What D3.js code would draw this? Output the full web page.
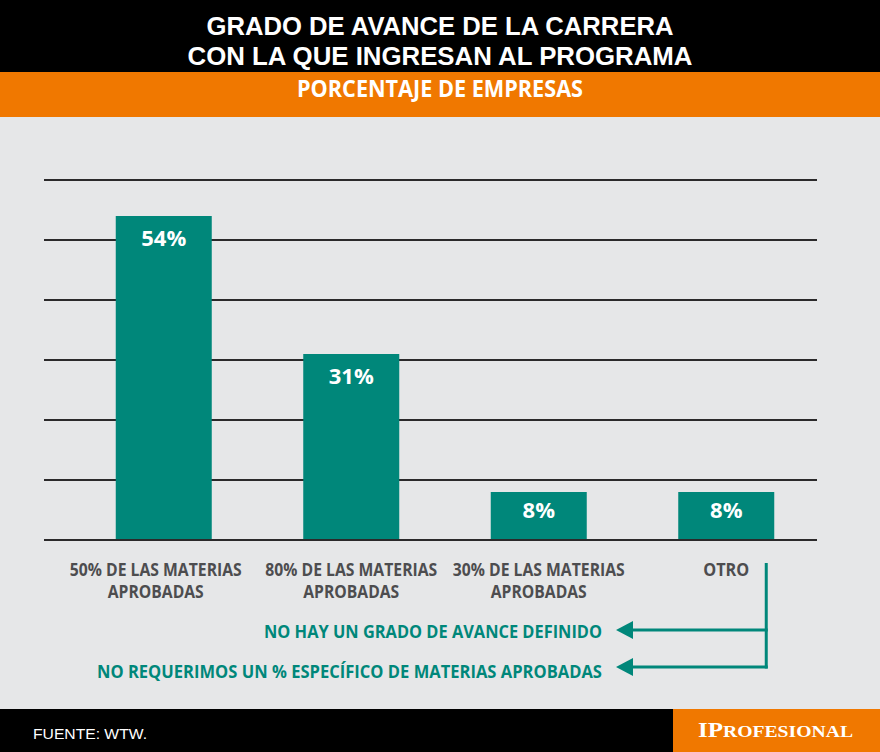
<!DOCTYPE html>
<html><head><meta charset="utf-8">
<script src="https://cdn.jsdelivr.net/npm/d3@7"></script>
<style>html,body{margin:0;padding:0;background:#e6e7e8;}svg{display:block;}</style>
</head><body>
<svg id="c" width="880" height="752"></svg>
<script>
const titleLines = ["GRADO DE AVANCE DE LA CARRERA", "CON LA QUE INGRESAN AL PROGRAMA"];
const subtitle = "PORCENTAJE DE EMPRESAS";
const categories = ["50% DE LAS MATERIAS|APROBADAS", "80% DE LAS MATERIAS|APROBADAS", "30% DE LAS MATERIAS|APROBADAS", "OTRO"];
const values = [54, 31, 8, 8];
const gridTicks = [0, 10, 20, 30, 40, 50, 60];
const otroNotes = ["NO HAY UN GRADO DE AVANCE DEFINIDO", "NO REQUERIMOS UN % ESPECÍFICO DE MATERIAS APROBADAS"];
const source = "FUENTE: WTW.";

const W = 880, H = 752;
const teal = "#00877a", orange = "#f07800", gray = "#4d4d4f";
const svg = d3.select("#c");
const bold = "'Open Sans', 'DejaVu Sans', sans-serif";

// backgrounds
svg.append("rect").attr("width", W).attr("height", H).attr("fill", "#e6e7e8");
svg.append("rect").attr("x", 0).attr("y", 0).attr("width", W).attr("height", 72).attr("fill", "#000");
svg.append("rect").attr("x", 0).attr("y", 72).attr("width", W).attr("height", 45).attr("fill", orange);
svg.append("rect").attr("x", 0).attr("y", 709).attr("width", W).attr("height", 43).attr("fill", "#000");
svg.append("rect").attr("x", 673).attr("y", 709).attr("width", 207).attr("height", 43).attr("fill", orange);

// title (one text element, two lines)
const titleWidths = [467, 505];
const title = svg.append("text")
  .attr("text-anchor", "middle")
  .attr("font-family", "'Liberation Sans', Arial, sans-serif").attr("font-weight", 700).attr("font-size", 25)
  .attr("fill", "#fff");
title.selectAll("tspan").data(titleLines).join("tspan")
  .attr("x", W / 2).attr("y", (d, i) => 35 + i * 30)
  .attr("textLength", (d, i) => titleWidths[i]).attr("lengthAdjust", "spacingAndGlyphs")
  .text(d => d);

svg.append("text").attr("x", 440).attr("y", 97).attr("text-anchor", "middle")
  .attr("font-family", bold).attr("font-weight", 700).attr("font-size", 22.5).attr("fill", "#fff")
  .attr("textLength", 286).attr("lengthAdjust", "spacingAndGlyphs")
  .text(subtitle);

// scales
const x = d3.scaleBand().domain(categories).range([70, 820]).paddingInner(0.488).paddingOuter(0.244);
const y = d3.scaleLinear().domain([0, 60]).range([540, 180]);

// gridlines
const g = svg.append("g");
g.selectAll("line.grid").data(gridTicks).join("line")
  .attr("class", "grid")
  .attr("x1", 44).attr("x2", 817)
  .attr("y1", d => y(d)).attr("y2", d => y(d))
  .attr("stroke", "#2b2a2b").attr("stroke-width", 2.2);

// bars
g.selectAll("rect.bar").data(values).join("rect")
  .attr("class", "bar")
  .attr("x", (d, i) => x(categories[i]))
  .attr("y", d => y(d))
  .attr("width", x.bandwidth())
  .attr("height", d => y(0) - y(d) - 1)
  .attr("fill", teal);

// value labels
g.selectAll("text.val").data(values).join("text")
  .attr("class", "val")
  .attr("x", (d, i) => x(categories[i]) + x.bandwidth() / 2)
  .attr("y", d => y(d) + Math.min(30, (y(0) - y(d)) / 2 + 2))
  .attr("text-anchor", "middle")
  .attr("font-family", bold).attr("font-weight", 700).attr("font-size", 22)
  .attr("fill", "#fff")
  .text(d => d + "%");

// category labels
const catWidths = [172, 96];
categories.forEach((c, i) => {
  const lines = c.split("|");
  const cx = x(c) + x.bandwidth() / 2 - (i === 0 ? 8 : 0);
  const t = svg.append("text")
    .attr("text-anchor", "middle")
    .attr("font-family", bold).attr("font-weight", 700).attr("font-size", 17.5)
    .attr("fill", gray);
  lines.forEach((l, j) => {
    const s = t.append("tspan").attr("x", cx).attr("y", 576 + j * 22).text(l);
    s.attr("textLength", lines.length > 1 ? catWidths[j] : 46).attr("lengthAdjust", "spacingAndGlyphs");
  });
});

// bracket from OTRO
const bx = x(categories[3]) + x.bandwidth() / 2 + 40;
const noteY = [630, 667];
const tipX = 616;
svg.append("path")
  .attr("d", `M${bx},563 V${noteY[1] + 1.5}`)
  .attr("stroke", teal).attr("stroke-width", 3).attr("fill", "none");
noteY.forEach((yy) => {
  svg.append("line").attr("x1", bx + 1.5).attr("x2", tipX + 12).attr("y1", yy).attr("y2", yy)
    .attr("stroke", teal).attr("stroke-width", 3);
  svg.append("path").attr("d", `M${tipX},${yy} L${tipX + 17},${yy - 9} L${tipX + 17},${yy + 9} Z`)
    .attr("fill", teal);
});
const noteWidths = [338, 505];
svg.selectAll("text.note").data(otroNotes).join("text")
  .attr("class", "note")
  .attr("x", 602).attr("y", (d, i) => noteY[i] + [8, 11][i])
  .attr("text-anchor", "end")
  .attr("font-family", bold).attr("font-weight", 700).attr("font-size", 17.5)
  .attr("fill", teal)
  .attr("textLength", (d, i) => noteWidths[i]).attr("lengthAdjust", "spacingAndGlyphs")
  .text(d => d);

// footer
svg.append("text").attr("x", 33).attr("y", 739)
  .attr("font-family", "'Liberation Sans', Arial, sans-serif").attr("font-size", 15.5)
  .attr("fill", "#fff").attr("textLength", 114).attr("lengthAdjust", "spacingAndGlyphs")
  .text(source);

const logo = svg.append("text").attr("x", 698).attr("y", 737)
  .attr("font-family", "'Liberation Serif', 'DejaVu Serif', serif").attr("font-weight", 700)
  .attr("fill", "#fff").attr("textLength", 155).attr("lengthAdjust", "spacingAndGlyphs");
logo.append("tspan").attr("font-size", 21).text("IP");
logo.append("tspan").attr("font-size", 16.5).text("ROFESIONAL");
</script>
</body></html>
